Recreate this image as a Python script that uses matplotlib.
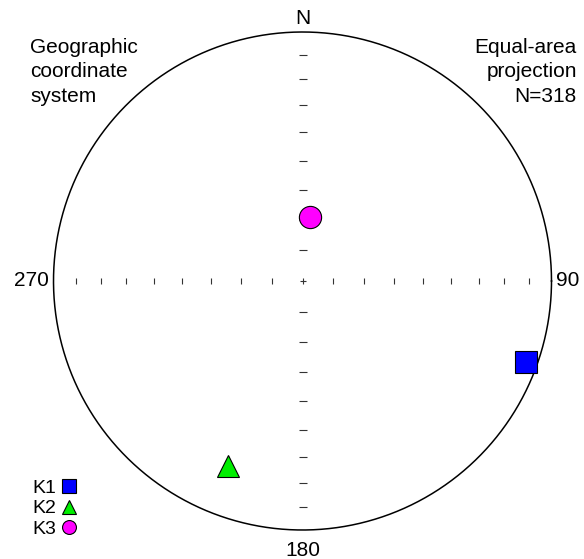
import numpy as np
import matplotlib
matplotlib.use('Agg')
import matplotlib.pyplot as plt
from matplotlib.lines import Line2D

plt.rcParams['font.family'] = ['Liberation Sans', 'DejaVu Sans']

# principal axes: trend / plunge in degrees
axis_names = ['K1', 'K2', 'K3']
trends = [110, 202, 7]
plunges = [5, 21, 69]
markers = ['s', '^', 'o']
colors = ['#0000ff', '#00ee00', '#ff00ff']

n_samples = 318
grid_plunges = [10, 20, 30, 40, 50, 60, 70, 80]


# equal-area (Schmidt) lower hemisphere projection
def equal_area(trend, plunge):
    t = np.radians(trend)
    p = np.radians(plunge)
    r = np.sqrt(2) * np.sin((np.pi / 2 - p) / 2)
    return r * np.sin(t), r * np.cos(t)


W, H = 584, 559
cx, cy, R = 302.5, 281.0, 249.0

fig = plt.figure(figsize=(W / 100, H / 100), dpi=100)
ax = fig.add_axes([0, 0, 1, 1])
ax.set_xlim(-cx / R, (W - cx) / R)
ax.set_ylim(-(H - cy) / R, cy / R)
ax.set_aspect('auto')
ax.axis('off')

# primitive circle
th = np.linspace(0, 2 * np.pi, 400)
ax.plot(np.cos(th), np.sin(th), color='black', lw=1.1)

# plunge ticks along the N-S and E-W lines
tick_r = np.sqrt(2) * np.sin(np.radians(90 - np.array(grid_plunges)) / 2)
ax.plot(np.zeros(len(tick_r) * 2), np.concatenate([tick_r, -tick_r]),
        ls='none', marker='_', ms=6, mew=0.8, color='#333333')
ax.plot(np.concatenate([tick_r, -tick_r]), np.zeros(len(tick_r) * 2),
        ls='none', marker='|', ms=5, mew=0.8, color='#333333')
ax.plot([0], [0], ls='none', marker='+', ms=5, mew=0.8, color='#333333')

# the axes of the ellipsoid
for name, t, p, m, c in zip(axis_names, trends, plunges, markers, colors):
    x, y = equal_area(t, p)
    ax.plot(x, y, ls='none', marker=m, ms=16, mfc=c, mec='black', mew=0.8)

fs = 15
ax.text(0, 1.016, 'N', ha='center', va='bottom', fontsize=fs)
ax.text(0, -1.045, '180', ha='center', va='top', fontsize=fs)
ax.text(-1.02, 0, '270', ha='right', va='center', fontsize=fs)
ax.text(1.02, 0, '90', ha='left', va='center', fontsize=fs)

fig.text(30 / W, 1 - 38 / H, 'Geographic\ncoordinate\nsystem', ha='left', va='top',
         fontsize=fs, linespacing=1.36)
fig.text(577 / W, 1 - 38 / H, 'Equal-area\nprojection\nN=%d' % n_samples, ha='right',
         va='top', fontsize=fs, linespacing=1.36)

handles = [Line2D([], [], ls='none', marker=m, ms=10, mfc=c, mec='black', mew=0.8)
           for m, c in zip(markers, colors)]
ax.legend(handles, axis_names, loc='lower left', bbox_to_anchor=(32 / W, 21 / H),
          frameon=False, markerfirst=False, fontsize=14, handlelength=0.7,
          handletextpad=0.3, labelspacing=0.15, borderpad=0, borderaxespad=0)

fig.savefig('out.png', dpi=100)
